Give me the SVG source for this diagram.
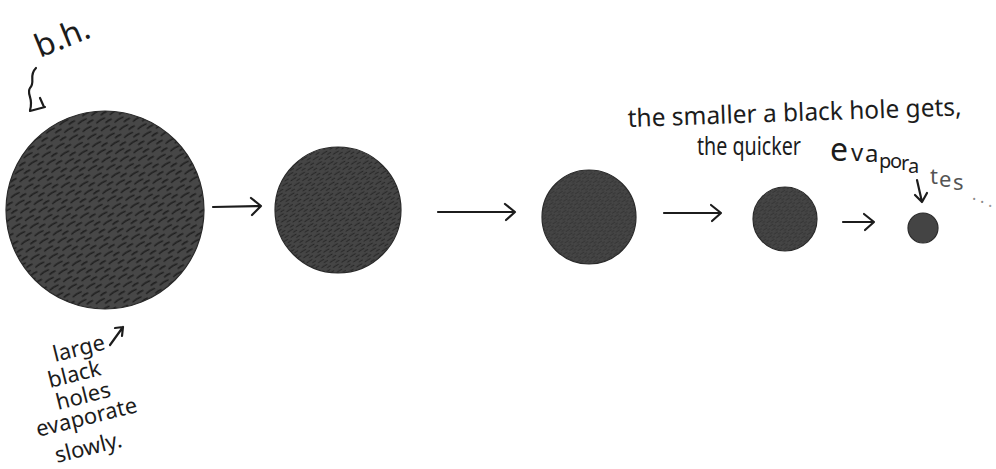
<svg xmlns="http://www.w3.org/2000/svg" width="996" height="469" viewBox="0 0 996 469">
<style>
.hand{font-family:"Noto Sans","DejaVu Sans",sans-serif;fill:#1c1c1c;}
.bh{stroke:#2a2a2a;stroke-width:1.2;}
.conn{fill:none;stroke:#1c1c1c;stroke-width:2.2;stroke-linecap:round;stroke-linejoin:round;}
</style>
<defs>
<pattern id="scr" patternUnits="userSpaceOnUse" width="16" height="9" patternTransform="rotate(-32)">
<rect width="16" height="9" fill="#474747"/>
<path d="M1,2.5 q4,-1 9,0 M9,7 q3,-0.8 6,0" stroke="#1e1e1e" stroke-width="1.6" stroke-linecap="round" fill="none"/>
</pattern>
<pattern id="scr2" patternUnits="userSpaceOnUse" width="10" height="6" patternTransform="rotate(-32)">
<rect width="10" height="6" fill="#454545"/>
<path d="M1,1.5 q3,-0.6 6,0 M6,4.5 q2,-0.5 3.5,0" stroke="#262626" stroke-width="1.1" stroke-linecap="round" fill="none"/>
</pattern>
<pattern id="scr3" patternUnits="userSpaceOnUse" width="7" height="4.5" patternTransform="rotate(-32)">
<rect width="7" height="4.5" fill="#454545"/>
<path d="M0.5,1.2 l4,0 M4,3.5 l2.5,0" stroke="#2e2e2e" stroke-width="0.8" stroke-linecap="round" fill="none"/>
</pattern>
</defs>
<rect width="996" height="469" fill="#ffffff"/>

<g id="bh1"><circle class="bh" cx="105" cy="210" r="99" fill="url(#scr)"/></g>
<g id="bh2"><circle class="bh" cx="338" cy="210" r="63" fill="url(#scr2)"/></g>
<g id="bh3"><circle class="bh" cx="589" cy="217" r="47" fill="url(#scr3)"/></g>
<g id="bh4"><circle class="bh" cx="785" cy="219" r="32" fill="url(#scr3)"/></g>
<g id="bh5"><circle class="bh" cx="923" cy="228" r="15" fill="#444"/></g>

<g id="connectors">
<path class="conn" d="M213,207 L261,206 M251,198 L261,206 L252,215"/>
<path class="conn" d="M438,212 L515,212 M505,204 L515,212 L506,220"/>
<path class="conn" d="M664,213 L721,213 M711,205 L721,213 L712,221"/>
<path class="conn" d="M843,222 L874,222 M864,214 L874,222 L865,230"/>
</g>

<g id="label-bh">
<text class="hand" x="40" y="58" font-size="32" transform="rotate(-22 40 58)">b.h.</text>
<path class="conn" d="M36,68 C28,76 36,82 30,88 C26,94 34,98 30,110 M30,111 L45,107 M40,98 L44,107" stroke-width="2.6"/>
</g>

<g id="label-large">
<text class="hand" font-size="22" transform="rotate(-14 55 362)"><tspan x="55" y="362">large</tspan></text>
<path class="conn" d="M110,345 L123,327 M115,328 L123,327 L122,336" stroke-width="1.8"/>
<text class="hand" font-size="22" transform="rotate(-14 50 388)"><tspan x="50" y="388">black</tspan></text>
<text class="hand" font-size="22" transform="rotate(-14 58 410)"><tspan x="58" y="410">holes</tspan></text>
<text class="hand" font-size="22" transform="rotate(-14 38 437)"><tspan x="38" y="437">evaporate</tspan></text>
<text class="hand" font-size="22" transform="rotate(-14 57 463)"><tspan x="57" y="463">slowly.</tspan></text>
</g>

<g id="label-smaller">
<text class="hand" x="628" y="127" font-size="25" textLength="334" lengthAdjust="spacingAndGlyphs" transform="rotate(-2 628 127)">the smaller a black hole gets,</text>
<text class="hand" x="697" y="155" font-size="25" textLength="104" lengthAdjust="spacingAndGlyphs">the quicker</text>
<text class="hand" font-size="24"><tspan x="830" y="161" font-size="32">e</tspan><tspan x="851" y="161">v</tspan><tspan x="865" y="162">a</tspan><tspan x="879" y="168" font-size="20">p</tspan><tspan x="890" y="168" font-size="20">o</tspan><tspan x="901" y="170" font-size="20">r</tspan><tspan x="908" y="173" font-size="20">a</tspan><tspan x="930" y="184" font-size="22" fill="#555">t</tspan><tspan x="939" y="187" font-size="22" fill="#555">e</tspan><tspan x="953" y="190" font-size="22" fill="#555">s</tspan><tspan x="972" y="200" font-size="16" fill="#888">.</tspan><tspan x="980" y="203" font-size="16" fill="#888">.</tspan><tspan x="988" y="207" font-size="16" fill="#999">.</tspan></text>
<path class="conn" d="M917,180 L922,202 M915,195 L922,202 L927,193" stroke-width="2"/>
</g>
</svg>
